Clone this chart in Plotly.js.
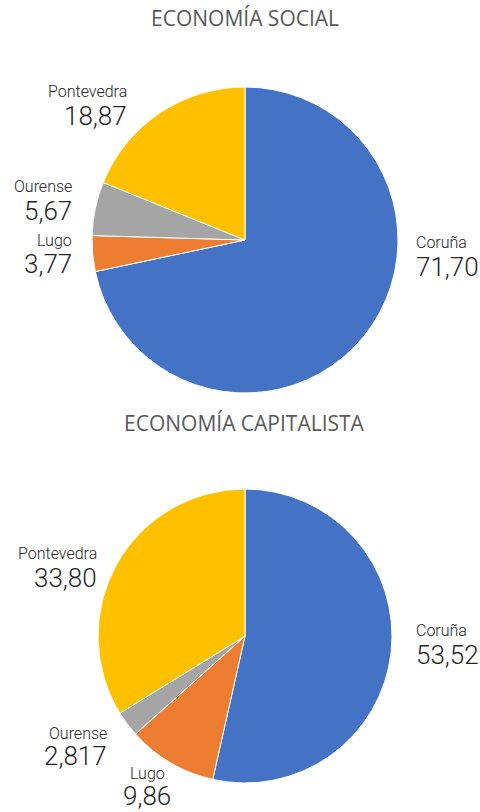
<!DOCTYPE html>
<html><head><meta charset="utf-8">
<script src="https://cdn.plot.ly/plotly-3.0.1.min.js"></script>
<style>html,body{margin:0;padding:0;background:#fff}#chart{width:480px;height:812px}</style>
</head><body><div id="chart"></div>
<script>
const categories = ["Coruña", "Lugo", "Ourense", "Pontevedra"];
const socialValues = [71.70, 3.77, 5.67, 18.87];
const socialText = ["71,70", "3,77", "5,67", "18,87"];
const capitalValues = [53.52, 9.86, 2.817, 33.80];
const capitalText = ["53,52", "9,86", "2,817", "33,80"];
const titles = ["ECONOMÍA SOCIAL", "ECONOMÍA CAPITALISTA"];
const colors = ["#4472C4", "#ED7D31", "#A5A5A5", "#FFC000"];

const W = 480, H = 812;
const px = x => x / W, py = y => 1 - y / H;

function pieTrace(values, dom) {
  return {
    type: "pie", labels: categories, values: values, sort: false,
    direction: "clockwise", rotation: 0, textinfo: "none", hoverinfo: "label+value",
    marker: {colors: colors, line: {color: "#ffffff", width: 1}},
    domain: dom, showlegend: false
  };
}

const traces = [
  pieTrace(socialValues, {x: [px(92), px(398)], y: [py(393), py(87)]}),
  pieTrace(capitalValues, {x: [px(98), px(392)], y: [py(783), py(489)]})
];

// label layout positions: [x, yName, yValue, xanchor]
const socialPos = [[414, 243, 267, "left"], [74, 240, 264, "right"], [74, 186, 211, "right"], [129, 92, 116, "right"]];
const capitalPos = [[414, 630, 655, "left"], [147, 773, 796, "center"], [109, 733, 756, "right"], [99, 553, 578, "right"]];

const font = "Roboto, sans-serif";
const annotations = [];
function addLabels(texts, pos) {
  categories.forEach((c, i) => {
    const p = pos[i];
    annotations.push({xref: "paper", yref: "paper", x: px(p[0]), y: py(p[1]), xanchor: p[3], yanchor: "middle",
      text: c, showarrow: false, font: {family: font, size: 16, weight: 300, color: "#262626"}});
    annotations.push({xref: "paper", yref: "paper", x: px(p[0]), y: py(p[2]), xanchor: p[3], yanchor: "middle",
      text: texts[i], showarrow: false, font: {family: font, size: 26, weight: 300, color: "#262626"}});
  });
}
addLabels(socialText, socialPos);
addLabels(capitalText, capitalPos);
[[titles[0], 18], [titles[1], 423]].forEach(t => annotations.push({
  xref: "paper", yref: "paper", x: px(245), y: py(t[1]), xanchor: "center", yanchor: "middle",
  text: t[0], showarrow: false, font: {family: "Open Sans, sans-serif", size: 21, color: "#595959"}
}));

Plotly.newPlot("chart", traces, {
  width: W, height: H, margin: {l: 0, r: 0, t: 0, b: 0},
  paper_bgcolor: "#ffffff", annotations: annotations
}, {displayModeBar: false, staticPlot: true});
</script></body></html>
